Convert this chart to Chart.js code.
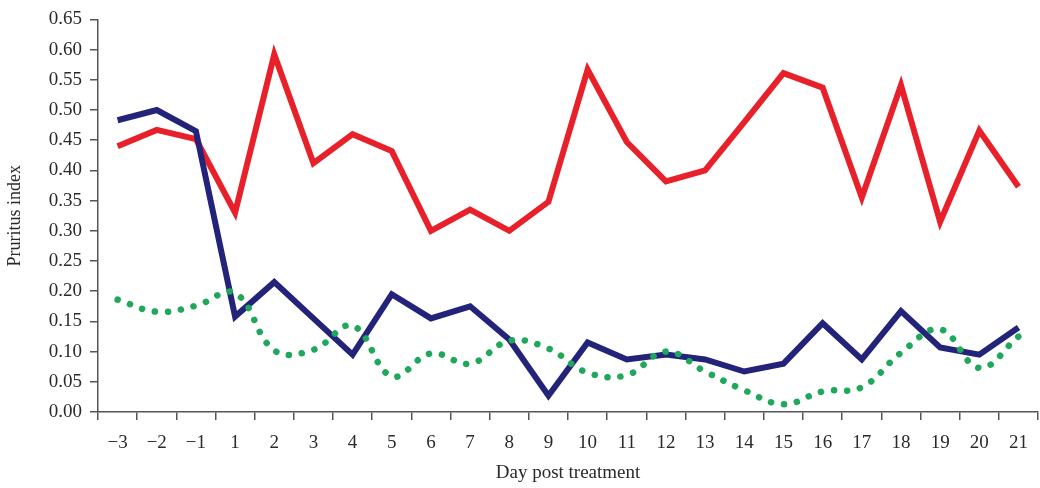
<!DOCTYPE html>
<html>
<head>
<meta charset="utf-8">
<script src="https://cdn.jsdelivr.net/npm/chart.js@4/dist/chart.umd.min.js"></script>
<style>
  html, body { margin: 0; padding: 0; background: #fff; }
  #wrap { width: 1040px; height: 488px; }
</style>
</head>
<body>
<div id="wrap"><canvas id="myChart" width="1040" height="488"></canvas></div>
<script>
// Datos
const days = ["\u22123", "\u22122", "\u22121", "1", "2", "3", "4", "5", "6", "7", "8", "9", "10",
  "11", "12", "13", "14", "15", "16", "17", "18", "19", "20", "21"];
const redSeries = [0.44, 0.467, 0.452, 0.33, 0.592, 0.412, 0.46, 0.432, 0.30, 0.335, 0.30, 0.348,
  0.567, 0.447, 0.382, 0.40, 0.48, 0.561, 0.537, 0.355, 0.541, 0.315, 0.466, 0.373];
const navySeries = [0.483, 0.50, 0.465, 0.158, 0.215, 0.155, 0.095, 0.195, 0.155, 0.175, 0.12, 0.027,
  0.115, 0.087, 0.095, 0.087, 0.067, 0.08, 0.147, 0.087, 0.167, 0.107, 0.095, 0.14];
const greenSeries = [0.186, 0.166, 0.176, 0.197, 0.102, 0.103, 0.143, 0.059, 0.097, 0.08, 0.118, 0.105,
  0.065, 0.061, 0.10, 0.067, 0.036, 0.013, 0.034, 0.041, 0.098, 0.137, 0.073, 0.125];
const yTicks = [0, 0.05, 0.1, 0.15, 0.2, 0.25, 0.3, 0.35, 0.4, 0.45, 0.5, 0.55, 0.6, 0.65];

const serif = "'Liberation Serif', 'DejaVu Serif', serif";
const axisColor = "#555555";
const textColor = "#2a2a2a";
const ctx = document.getElementById("myChart").getContext("2d");

new Chart(ctx, {
  type: "line",
  data: {
    labels: days,
    datasets: [
      {
        label: "green",
        data: greenSeries,
        borderColor: "#1fa85c",
        borderWidth: 6.5,
        borderDash: [0.1, 13],
        borderCapStyle: "round",
        tension: 0.4,
        pointRadius: 0,
      },
      {
        label: "navy",
        data: navySeries,
        borderColor: "#23237a",
        borderWidth: 6,
        tension: 0,
        pointRadius: 0,
      },
      {
        label: "red",
        data: redSeries,
        borderColor: "#e8202a",
        borderWidth: 6,
        tension: 0,
        pointRadius: 0,
      },
    ],
  },
  options: {
    responsive: false,
    animation: false,
    layout: { padding: { top: 6, right: 1, left: 0, bottom: 0 } },
    plugins: { legend: { display: false }, tooltip: { enabled: false } },
    scales: {
      x: {
        offset: true,
        grid: { offset: true, drawOnChartArea: false, tickLength: 8, color: axisColor, lineWidth: 1.5 },
        border: { color: axisColor, width: 1.5 },
        ticks: { color: textColor, font: { family: serif, size: 19 }, padding: 12, maxRotation: 0, autoSkip: false },
        title: { display: true, text: "Day post treatment", color: textColor, font: { family: serif, size: 19 }, padding: { top: 6 } },
        afterFit: (scale) => { scale.height = 76; },
      },
      y: {
        min: 0,
        max: 0.65,
        afterBuildTicks: (scale) => { scale.ticks = yTicks.map((v) => ({ value: v })); },
        grid: { drawOnChartArea: false, tickLength: 8, color: axisColor, lineWidth: 1.5 },
        border: { color: axisColor, width: 1.5 },
        ticks: {
          color: textColor,
          font: { family: serif, size: 19 },
          padding: 8,
          callback: (v) => Number(v).toFixed(2),
        },
        title: { display: true, text: "Pruritus index", color: textColor, font: { family: serif, size: 18 }, padding: { bottom: 2 } },
        afterFit: (scale) => { scale.width = 98; },
      },
    },
  },
});
</script>
</body>
</html>
